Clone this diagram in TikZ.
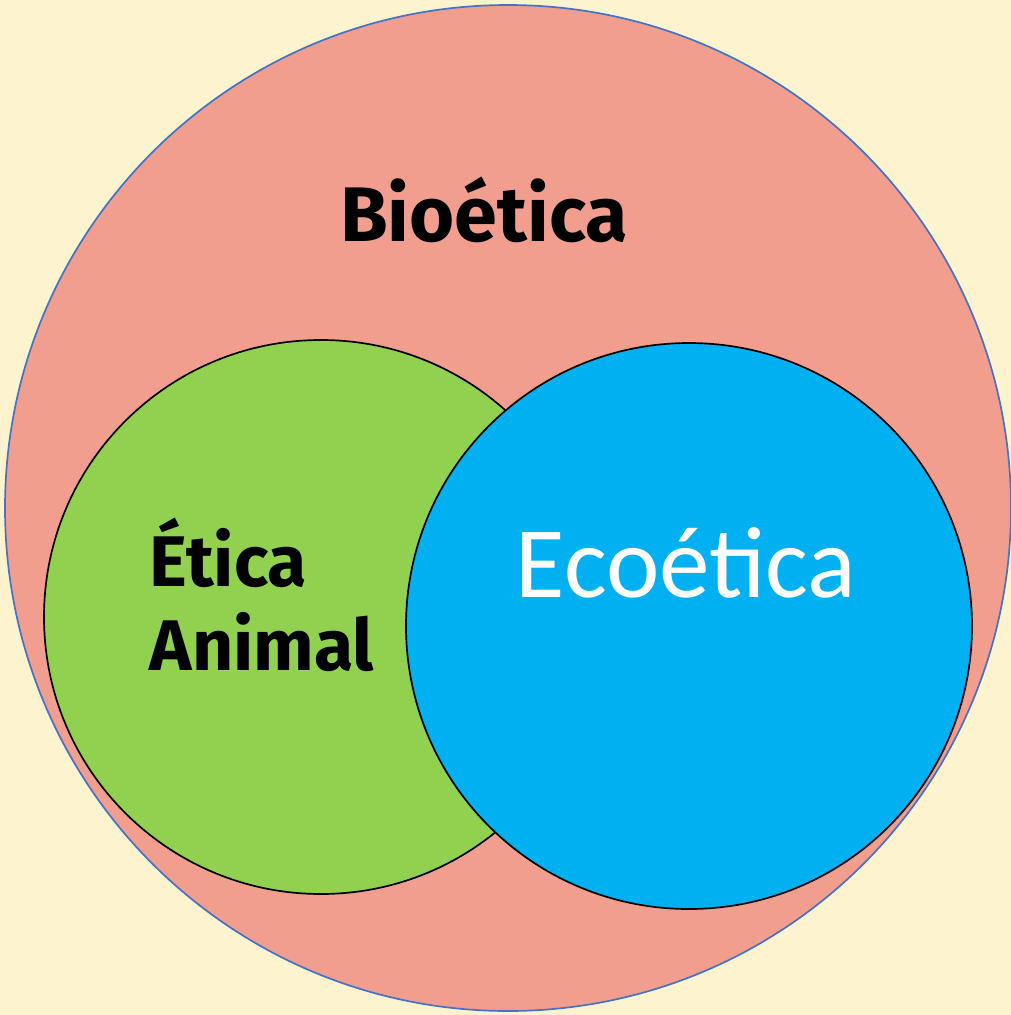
\documentclass[tikz,border=0pt]{standalone}
\usepackage{fontspec}
\setmainfont{Carlito}
\newfontfamily\labelfont{Fira Sans}
\usepackage{tikz}
\usetikzlibrary{positioning}
\definecolor{bgyellow}{HTML}{FDF4CF}
\definecolor{bioredfill}{HTML}{F19E8F}
\definecolor{bioblueline}{HTML}{4472C4}
\definecolor{animalgreen}{HTML}{92D050}
\definecolor{ecoblue}{HTML}{00B0F0}
\tikzset{
  outer/.style={circle, draw=bioblueline, line width=1.2pt, fill=bioredfill, inner sep=0pt},
  inner/.style={circle, draw=black, line width=1.2pt, inner sep=0pt},
  boldlabel/.style={font=\labelfont\bfseries\fontsize{55}{62}\selectfont, text=black, align=left},
  ecolabel/.style={font=\fontsize{72}{80}\selectfont, text=white}
}
\begin{document}
\begin{tikzpicture}[x=0.025cm, y=-0.025cm]
  \fill[bgyellow] (0,0) rectangle (1011,1015);
  \useasboundingbox (0,0) rectangle (1011,1015);
  \node[outer, minimum size=1006*0.025cm] (bio) at (508,508) {};
  \node[inner, fill=animalgreen, minimum size=554*0.025cm] (animal) at (321,617) {};
  \node[inner, fill=ecoblue, minimum size=566*0.025cm] (eco) at (689,626) {};
  \node[boldlabel] (biotext) at (484,210) {Bioética};
  \node[boldlabel, font=\labelfont\bfseries\fontsize{51}{60}\selectfont] (animaltext) at (262,595) {Ética\\Animal};
  \node[ecolabel] (ecotext) at (686,563) {Ecoética};
\end{tikzpicture}
\end{document}
